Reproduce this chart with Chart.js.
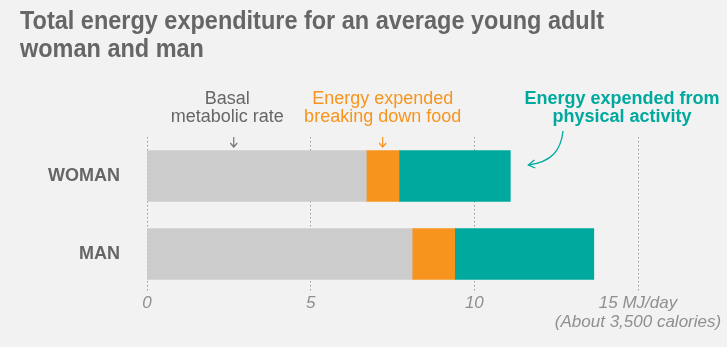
<!DOCTYPE html>
<html>
<head>
<meta charset="utf-8">
<script src="https://cdn.jsdelivr.net/npm/chart.js@4"></script>
<style>
  html, body { margin: 0; padding: 0; background: #f2f2f2; }
  #wrap { width: 727px; height: 347px; position: relative; }
</style>
</head>
<body>
<div id="wrap"><canvas id="c" width="727" height="347"></canvas></div>
<script>
// Data (MJ/day)
const categories = ["WOMAN", "MAN"];
const basalMetabolic = [6.7, 8.1];
const breakingDownFood = [1.0, 1.3];
const physicalActivity = [3.4, 4.25];
const xTicks = [0, 5, 10, 15];
const xTickLabels = {0: "0", 5: "5", 10: "10", 15: ["15 MJ/day", "(About 3,500 calories)"]};
const titleLines = ["Total energy expenditure for an average young adult", "woman and man"];

const COND = '"Liberation Sans Narrow", "DejaVu Sans Condensed", "Liberation Sans", sans-serif';
const SANS = '"Liberation Sans", Arial, sans-serif';

function fitText(ctx, text, x, y, scaleX) {
  ctx.save();
  ctx.translate(x, y);
  ctx.scale(scaleX, 1);
  ctx.fillText(text, 0, 0);
  ctx.restore();
}

const decor = {
  id: 'decor',
  beforeDraw(chart) {
    const ctx = chart.ctx;
    ctx.save();
    ctx.fillStyle = '#f2f2f2';
    ctx.fillRect(0, 0, chart.width, chart.height);
    ctx.restore();
  },
  afterDraw(chart) {
    const ctx = chart.ctx;
    const x = chart.scales.x, y = chart.scales.y;
    ctx.save();
    // Title (condensed)
    ctx.fillStyle = '#666666';
    ctx.font = 'bold 25px ' + SANS;
    ctx.textBaseline = 'alphabetic';
    ctx.textAlign = 'left';
    const w0 = ctx.measureText(titleLines[0]).width;
    const sx = 584 / w0;
    fitText(ctx, titleLines[0], 20, 29, sx);
    fitText(ctx, titleLines[1], 20, 57, sx);

    const yW = y.getPixelForValue(0);

    // Basal label
    const bx = x.getPixelForValue(2.45);
    const bArrow = x.getPixelForValue(2.65);
    ctx.font = '18px ' + SANS;
    ctx.textAlign = 'center';
    ctx.textBaseline = 'middle';
    ctx.fillStyle = '#666666';
    ctx.fillText('Basal', bx, 99);
    ctx.fillText('metabolic rate', bx, 117);

    // Food label
    const fx = x.getPixelForValue(basalMetabolic[0] + breakingDownFood[0] / 2);
    ctx.fillStyle = '#f7941d';
    ctx.fillText('Energy expended', fx, 99);
    ctx.fillText('breaking down food', fx, 117);

    // Activity label
    ctx.font = 'bold 18px ' + SANS;
    ctx.fillStyle = '#00a99d';
    ctx.fillText('Energy expended from', 622, 99);
    ctx.fillText('physical activity', 622, 117);

    // small down arrows
    function downArrow(ax, color) {
      ctx.strokeStyle = color;
      ctx.lineWidth = 1.2;
      ctx.beginPath();
      ctx.moveTo(ax, 137); ctx.lineTo(ax, 147);
      ctx.moveTo(ax - 3.5, 143); ctx.lineTo(ax, 147); ctx.lineTo(ax + 3.5, 143);
      ctx.stroke();
    }
    downArrow(bArrow, '#777777');
    downArrow(fx, '#f7941d');

    // curved arrow
    const endX = x.getPixelForValue(basalMetabolic[0] + breakingDownFood[0] + physicalActivity[0]) + 18;
    const endY = yW - 11;
    ctx.strokeStyle = '#00a99d';
    ctx.lineWidth = 1.3;
    ctx.beginPath();
    ctx.moveTo(563, 131);
    ctx.bezierCurveTo(561, 150, 552, 162, endX, endY);
    ctx.stroke();
    ctx.beginPath();
    ctx.moveTo(endX + 6, endY - 5);
    ctx.lineTo(endX, endY);
    ctx.lineTo(endX + 7, endY + 3);
    ctx.stroke();
    ctx.restore();
  }
};

new Chart(document.getElementById('c'), {
  type: 'bar',
  data: {
    labels: categories,
    datasets: [
      { label: 'Basal metabolic rate', data: basalMetabolic, backgroundColor: '#cccccc' },
      { label: 'Energy expended breaking down food', data: breakingDownFood, backgroundColor: '#f7941d' },
      { label: 'Energy expended from physical activity', data: physicalActivity, backgroundColor: '#00a99d' }
    ]
  },
  options: {
    indexAxis: 'y',
    responsive: false,
    animation: false,
    devicePixelRatio: 1,
    barThickness: 51,
    layout: { padding: { top: 137, right: 89, left: 0, bottom: 0 } },
    plugins: { legend: { display: false }, tooltip: { enabled: false }, title: { display: false } },
    scales: {
      x: {
        stacked: true,
        min: 0, max: 15,
        afterBuildTicks(scale) { scale.ticks = xTicks.map(v => ({ value: v })); },
        afterFit(scale) { scale.height = 54; },
        border: { display: false, dash: [1.5, 2.5] },
        grid: {
          drawTicks: false,
          color: '#9a9a9a',
          lineWidth: 1
        },
        ticks: {
          padding: 1,
          color: '#8f8f8f',
          font: { family: SANS, size: 17, style: 'italic', lineHeight: 1.1 },
          callback: (v) => xTickLabels[v],
          maxRotation: 0,
          autoSkip: false
        }
      },
      y: {
        stacked: true,
        afterFit(scale) { scale.width = 147; },
        border: { display: false },
        grid: { display: false, drawTicks: false },
        ticks: {
          padding: 27,
          color: '#666666',
          font: { family: SANS, size: 18, weight: 'bold' }
        }
      }
    }
  },
  plugins: [decor]
});
</script>
</body>
</html>
